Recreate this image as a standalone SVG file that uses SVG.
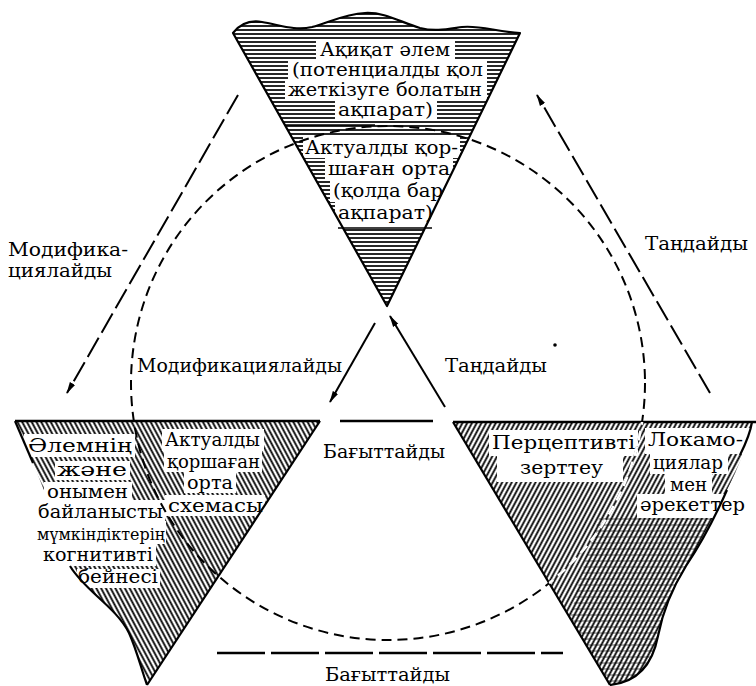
<svg xmlns="http://www.w3.org/2000/svg" width="756" height="686" viewBox="0 0 756 686">
<style>
.t{font-family:"DejaVu Serif","Liberation Serif",serif;font-size:18px;fill:#000}
.s{font-family:"DejaVu Serif","Liberation Serif",serif;font-size:17px;fill:#000}
.edge{fill:none;stroke:#000;stroke-width:2.2;stroke-linejoin:round}
.wb{fill:#fff}
.dl{fill:none;stroke:#000;stroke-width:2;stroke-dasharray:22 6}
.sl{fill:none;stroke:#000;stroke-width:2}
</style>
<defs>
<pattern id="hh" width="8" height="4" patternUnits="userSpaceOnUse"><line x1="0" y1="2" x2="8" y2="2" stroke="#000" stroke-width="1.7"/></pattern>
<pattern id="hb" width="8" height="4.2" patternUnits="userSpaceOnUse" patternTransform="rotate(62)"><line x1="0" y1="2.1" x2="8" y2="2.1" stroke="#000" stroke-width="1.8"/></pattern>
<pattern id="hf" width="8" height="4.2" patternUnits="userSpaceOnUse" patternTransform="rotate(-62)"><line x1="0" y1="2.1" x2="8" y2="2.1" stroke="#000" stroke-width="1.8"/></pattern>
<pattern id="hx" width="8" height="6" patternUnits="userSpaceOnUse"><line x1="0" y1="3" x2="8" y2="3" stroke="#000" stroke-width="0.9"/></pattern>
<clipPath id="cTop"><path d="M233,33 C240,24 250,20 262,22 C280,25 295,31 312,27 C330,22 345,14 365,13 C385,12 400,22 420,28 C435,32 448,29 462,27 C480,25 497,32 520,33 L387,306 Z"/></clipPath>
<clipPath id="cRight"><path d="M453,422 L752,422 C749,442 738,468 727,490 C716,515 700,545 686,566 C673,587 663,610 658,636 C653,662 640,682 610,685 Z"/></clipPath>
<marker id="ah" viewBox="0 0 12 8" markerWidth="12" markerHeight="8" refX="11" refY="4" orient="auto" markerUnits="userSpaceOnUse"><path d="M0,1 L12,4 L0,7 Z" fill="#000"/></marker>
</defs>
<rect width="756" height="686" fill="#fff"/>

<g id="node-top">
<path d="M233,33 C240,24 250,20 262,22 C280,25 295,31 312,27 C330,22 345,14 365,13 C385,12 400,22 420,28 C435,32 448,29 462,27 C480,25 497,32 520,33 L387,306 Z" fill="url(#hh)"/>
<g clip-path="url(#cTop)">
<rect class="wb" x="316" y="40" width="139" height="20"/>
<rect class="wb" x="288" y="60" width="199" height="21"/>
<rect class="wb" x="285" y="81" width="202" height="20"/>
<rect class="wb" x="335" y="101" width="102" height="19"/>
<rect class="wb" x="303" y="137" width="157" height="21"/>
<rect class="wb" x="325" y="158" width="128" height="22"/>
<rect class="wb" x="330" y="180" width="117" height="22"/>
<rect class="wb" x="335" y="202" width="102" height="26"/>
</g>
<path class="edge" d="M233,33 C240,24 250,20 262,22 C280,25 295,31 312,27 C330,22 345,14 365,13 C385,12 400,22 420,28 C435,32 448,29 462,27 C480,25 497,32 520,33 L387,306 Z"/>
<line x1="285" y1="125" x2="375" y2="125" stroke="#000" stroke-width="1.5"/>
<line x1="338" y1="228" x2="432" y2="228" stroke="#000" stroke-width="1.5"/>
<text class="t" x="320" y="56" textLength="130" lengthAdjust="spacingAndGlyphs">Ақиқат әлем</text>
<text class="t" x="292" y="76" textLength="191" lengthAdjust="spacingAndGlyphs">(потенциалды қол</text>
<text class="t" x="288" y="96" textLength="194" lengthAdjust="spacingAndGlyphs">жеткізуге болатын</text>
<text class="t" x="338" y="116" textLength="95" lengthAdjust="spacingAndGlyphs">ақпарат)</text>
<text class="t" x="305" y="154" textLength="153" lengthAdjust="spacingAndGlyphs">Актуалды қор-</text>
<text class="t" x="328" y="175" textLength="122" lengthAdjust="spacingAndGlyphs">шаған орта</text>
<text class="t" x="333" y="197" textLength="110" lengthAdjust="spacingAndGlyphs">(қолда бар</text>
<text class="t" x="338" y="219" textLength="95" lengthAdjust="spacingAndGlyphs">ақпарат)</text>
</g>

<g id="node-left">
<path d="M15,421 L320,421 L147,685 C141,668 136,648 129,633 C122,619 110,608 98,597 C86,586 74,572 66,555 L50,505 L33,463 Z" fill="url(#hb)"/>
<rect class="wb" x="24" y="434" width="111" height="23"/>
<rect class="wb" x="55" y="461" width="75" height="19"/>
<rect class="wb" x="44" y="482" width="88" height="20"/>
<rect class="wb" x="36" y="500" width="129" height="21"/>
<rect class="wb" x="35" y="521" width="131" height="23"/>
<rect class="wb" x="40" y="543" width="116" height="23"/>
<rect class="wb" x="77" y="569" width="83" height="19"/>
<rect class="wb" x="162" y="429" width="102" height="22"/>
<rect class="wb" x="164" y="450" width="98" height="22"/>
<rect class="wb" x="184" y="472" width="52" height="21"/>
<rect class="wb" x="165" y="495" width="100" height="21"/>
<line x1="15" y1="421" x2="320" y2="421" stroke="#000" stroke-width="2.6"/>
<path class="edge" d="M320,421 L147,685"/>
<path class="edge" d="M15,421 L33,463"/>
<path class="edge" d="M147,685 C141,668 136,648 129,633 C122,619 110,608 98,597 C86,586 76,576 70,566"/>
<text class="t" x="28" y="452" textLength="104" lengthAdjust="spacingAndGlyphs">Әлемнің</text>
<text class="t" x="57" y="476" textLength="70" lengthAdjust="spacingAndGlyphs">және</text>
<text class="t" x="47" y="498" textLength="81" lengthAdjust="spacingAndGlyphs">онымен</text>
<text class="t" x="38" y="518" textLength="125" lengthAdjust="spacingAndGlyphs">байланысты</text>
<text class="s" x="37" y="540" textLength="128" lengthAdjust="spacingAndGlyphs">мүмкіндіктерің</text>
<text class="t" x="43" y="561" textLength="110" lengthAdjust="spacingAndGlyphs">когнитивті</text>
<text class="t" x="78" y="583" textLength="80" lengthAdjust="spacingAndGlyphs">бейнесі</text>
<text class="t" x="165" y="446" textLength="95" lengthAdjust="spacingAndGlyphs">Актуалды</text>
<text class="t" x="167" y="468" textLength="93" lengthAdjust="spacingAndGlyphs">қоршаған</text>
<text class="t" x="187" y="489" textLength="46" lengthAdjust="spacingAndGlyphs">орта</text>
<text class="t" x="168" y="512" textLength="95" lengthAdjust="spacingAndGlyphs">схемасы</text>
</g>

<g id="node-right">
<path d="M453,422 L752,422 C749,442 738,468 727,490 C716,515 700,545 686,566 C673,587 663,610 658,636 C653,662 640,682 610,685 Z" fill="url(#hf)"/>
<g clip-path="url(#cRight)">
<path d="M600,515 L730,515 L700,690 L560,690 C565,620 585,560 600,515 Z" fill="url(#hx)" opacity="0.7"/>
</g>
<rect class="wb" x="489" y="430" width="149" height="26"/>
<rect class="wb" x="497" y="456" width="126" height="26"/>
<rect class="wb" x="645" y="428" width="107" height="26"/>
<rect class="wb" x="650" y="454" width="78" height="20"/>
<rect class="wb" x="665" y="474" width="47" height="20"/>
<rect class="wb" x="637" y="494" width="113" height="24"/>
<line x1="453" y1="422" x2="756" y2="422" stroke="#000" stroke-width="2.6"/>
<path class="edge" d="M453,422 L610,685"/>
<path class="edge" d="M727,490 C716,515 700,545 686,566 C673,587 663,610 658,636 C653,662 640,682 610,685"/>
<path class="edge" d="M752,422 C750,435 745,445 740,455"/>
<text class="t" x="492" y="449" textLength="143" lengthAdjust="spacingAndGlyphs">Перцептивті</text>
<text class="t" x="520" y="474" textLength="83" lengthAdjust="spacingAndGlyphs">зерттеу</text>
<text class="t" x="648" y="446" textLength="95" lengthAdjust="spacingAndGlyphs">Локамо-</text>
<text class="t" x="653" y="469" textLength="70" lengthAdjust="spacingAndGlyphs">циялар</text>
<text class="t" x="670" y="491" textLength="37" lengthAdjust="spacingAndGlyphs">мен</text>
<text class="t" x="640" y="511" textLength="105" lengthAdjust="spacingAndGlyphs">әрекеттер</text>
</g>

<g id="connectors">
<circle cx="388" cy="383" r="257" fill="none" stroke="#000" stroke-width="2" stroke-dasharray="10 6"/>
<g clip-path="url(#cRight)">
<circle cx="388" cy="383" r="257" fill="none" stroke="#fff" stroke-width="2.6" stroke-dasharray="10 6"/>
</g>
<line class="dl" x1="238" y1="95" x2="67" y2="393" marker-end="url(#ah)"/>
<line class="dl" x1="710" y1="393" x2="537" y2="95" marker-end="url(#ah)"/>
<line class="sl" x1="375" y1="323" x2="330" y2="402" marker-end="url(#ah)"/>
<line class="sl" x1="445" y1="407" x2="390" y2="316" marker-end="url(#ah)"/>
<line x1="340" y1="421" x2="433" y2="421" stroke="#000" stroke-width="2.6"/>
<line x1="217" y1="653" x2="563" y2="653" stroke="#000" stroke-width="2.6" stroke-dasharray="48 6"/>
</g>

<g id="labels">
<text class="t" x="8" y="256" textLength="120" lengthAdjust="spacingAndGlyphs">Модифика-</text>
<text class="t" x="8" y="277" textLength="104" lengthAdjust="spacingAndGlyphs">циялайды</text>
<text class="t" x="645" y="250" textLength="103" lengthAdjust="spacingAndGlyphs">Таңдайды</text>
<text class="t" x="137" y="372" textLength="205" lengthAdjust="spacingAndGlyphs">Модификациялайды</text>
<text class="t" x="445" y="372" textLength="102" lengthAdjust="spacingAndGlyphs">Таңдайды</text>
<text class="t" x="323" y="458" textLength="122" lengthAdjust="spacingAndGlyphs">Бағыттайды</text>
<text class="t" x="325" y="681" textLength="125" lengthAdjust="spacingAndGlyphs">Бағыттайды</text>
<circle cx="555" cy="345" r="1.8" fill="#000"/>
</g>
</svg>
